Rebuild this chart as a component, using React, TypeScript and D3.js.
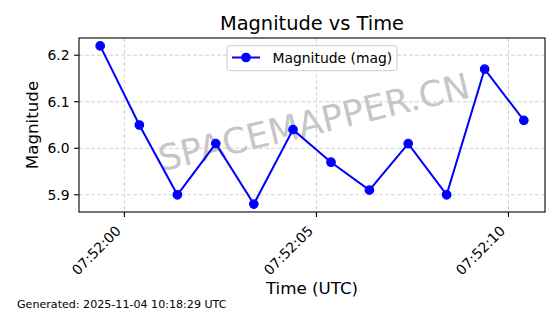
import React from "react";
import * as d3 from "d3";

const times = [
  "07:51:59.37", "07:52:00.39", "07:52:01.38", "07:52:02.38", "07:52:03.37", "07:52:04.39",
  "07:52:05.38", "07:52:06.38", "07:52:07.39", "07:52:08.39", "07:52:09.38", "07:52:10.40",
];
const magnitudes = [6.22, 6.05, 5.9, 6.01, 5.88, 6.04, 5.97, 5.91, 6.01, 5.9, 6.17, 6.06];
const xTickLabels = ["07:52:00", "07:52:05", "07:52:10"];
const yTicks = [5.9, 6.0, 6.1, 6.2];

const W = 560, H = 314;
const left = 79, right = 545, top = 38, bottom = 212;
const FONT = "DejaVu Sans, sans-serif";

const toSec = (s: string) => {
  const [h, m, sec] = s.split(":");
  return +h * 3600 + +m * 60 + +sec;
};

export default function App() {
  const xs = times.map(toSec);
  const x0 = d3.min(xs)!, x1 = d3.max(xs)!;
  const xm = (x1 - x0) * 0.05;
  const x = d3.scaleLinear().domain([x0 - xm, x1 + xm]).range([left, right]);
  const y0 = d3.min(magnitudes)!, y1 = d3.max(magnitudes)!;
  const ym = (y1 - y0) * 0.05;
  const y = d3.scaleLinear().domain([y0 - ym, y1 + ym]).range([bottom, top]);
  const pts = xs.map((t, i) => [x(t), y(magnitudes[i])] as [number, number]);
  const line = d3.line()(pts)!;
  const grid = "#c8c8c8";
  const tickLen = 4.9;
  const cx = (left + right) / 2;
  const cy = (top + bottom) / 2;
  const wx = cx + 2, wy = cy - 3;

  return (
    <svg width={W} height={H} style={{ position: "fixed", left: 0, top: 0, background: "#fff" }} fontFamily={FONT}>
      <rect width={W} height={H} fill="#fff" />
      {/* grid */}
      {xTickLabels.map((l) => (
        <line key={"gx" + l} x1={x(toSec(l))} x2={x(toSec(l))} y1={top} y2={bottom} stroke={grid} strokeWidth={0.8} strokeDasharray="4,2" />
      ))}
      {yTicks.map((v) => (
        <line key={"gy" + v} x1={left} x2={right} y1={y(v)} y2={y(v)} stroke={grid} strokeWidth={0.8} strokeDasharray="4,2" />
      ))}
      {/* watermark */}
      <text x={wx} y={wy} textAnchor="middle" dominantBaseline="central" fontSize={35.5} fill="#c6c6c6"
        transform={`rotate(-13.5 ${wx} ${wy})`}>SPACEMAPPER.CN</text>
      {/* series */}
      <path d={line} fill="none" stroke="#0000ff" strokeWidth={2} />
      {pts.map((p, i) => (
        <circle key={i} cx={p[0]} cy={p[1]} r={4.2} fill="#0000ff" stroke="#0000ff" strokeWidth={1.3} />
      ))}
      {/* frame */}
      <rect x={left} y={top} width={right - left} height={bottom - top} fill="none" stroke="#000" strokeWidth={1.1} />
      {/* x ticks */}
      {xTickLabels.map((l) => {
        const px = x(toSec(l));
        const ax = px - 2.5, ay = bottom + tickLen + 4.9 + 10;
        return (
          <g key={"xt" + l}>
            <line x1={px} x2={px} y1={bottom} y2={bottom + tickLen} stroke="#000" strokeWidth={1.1} />
            <text x={ax} y={ay} textAnchor="end" fontSize={13.9} fill="#000" transform={`rotate(-45 ${ax} ${ay})`}>{l}</text>
          </g>
        );
      })}
      {/* y ticks */}
      {yTicks.map((v) => (
        <g key={"yt" + v}>
          <line x1={left - tickLen} x2={left} y1={y(v)} y2={y(v)} stroke="#000" strokeWidth={1.1} />
          <text x={left - tickLen - 4.5} y={y(v)} dy="0.36em" textAnchor="end" fontSize={13.9} fill="#000">{v.toFixed(1)}</text>
        </g>
      ))}
      {/* legend */}
      <rect x={227} y={45.7} width={170} height={25} rx={2.5} fill="#fff" fillOpacity={0.8} stroke="#cccccc" strokeWidth={1} />
      <line x1={232} x2={260} y1={57.5} y2={57.5} stroke="#0000ff" strokeWidth={2} />
      <circle cx={246} cy={57.5} r={4.2} fill="#0000ff" stroke="#0000ff" strokeWidth={1.3} />
      <text x={272.5} y={62.5} fontSize={13.9} fill="#000">Magnitude (mag)</text>
      {/* titles */}
      <text x={cx} y={30} textAnchor="middle" fontSize={19.4} fill="#000">Magnitude vs Time</text>
      <text x={cx} y={294} textAnchor="middle" fontSize={16.7} fill="#000">Time (UTC)</text>
      <text x={38} y={cy} textAnchor="middle" fontSize={16.7} fill="#000" transform={`rotate(-90 38 ${cy})`}>Magnitude</text>
      <text x={17} y={308} fontSize={11.1} fill="#000">Generated: 2025-11-04 10:18:29 UTC</text>
    </svg>
  );
}
